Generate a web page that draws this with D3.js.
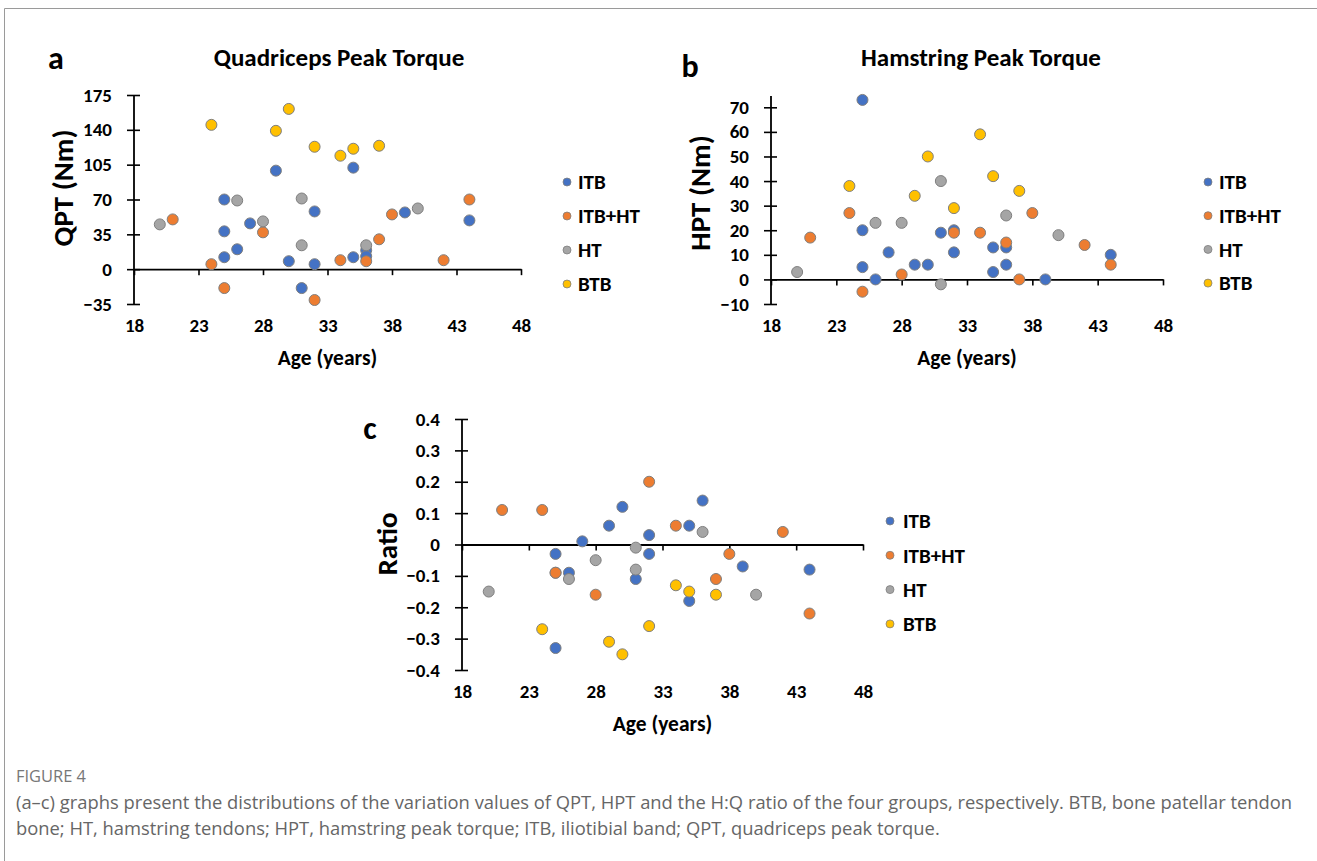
<!DOCTYPE html>
<html>
<head>
<meta charset="utf-8">
<script src="https://cdn.jsdelivr.net/npm/d3@7"></script>
<style>
  body { margin: 0; background: #fff; }
  svg { display: block; }
  .chart text { font-family: Carlito, Lato, "Liberation Sans", sans-serif; font-weight: bold; fill: #000; }
  .caption text { font-family: "Liberation Sans Narrow", "Open Sans", "Noto Sans", sans-serif; fill: #666; }
</style>
</head>
<body>
<svg id="fig" width="1317" height="861"></svg>
<script>
// groups, in the order Excel drew them (later ones sit on top)
const groups = ['ITB', 'ITB+HT', 'HT', 'BTB']
const groupColors = ['#4472c4', '#ed7d31', '#a5a5a5', '#ffc000']

const ageTicks = [18, 23, 28, 33, 38, 43, 48]

// (a) quadriceps peak torque variation, [age, Nm]
const qptITB = [[25, 70], [25, 38], [25, 12], [26, 20], [27, 46], [29, 99], [30, 8], [31, -19],
  [32, 58], [32, 5], [35, 102], [35, 12], [36, 19], [36, 13], [39, 57], [44, 49]]
const qptITBHT = [[21, 50], [24, 5], [25, -19], [28, 37], [32, -31], [34, 9], [36, 8],
  [37, 30], [38, 55], [42, 9], [44, 70]]
const qptHT = [[20, 45], [26, 69], [28, 48], [31, 71], [31, 24], [36, 24], [40, 61]]
const qptBTB = [[24, 145], [29, 139], [30, 161], [32, 123], [34, 114], [35, 121], [37, 124]]
const qptTicks = [-35, 0, 35, 70, 105, 140, 175]

// (b) hamstring peak torque variation, [age, Nm]
const hptITB = [[25, 73], [25, 20], [25, 5], [26, 0], [27, 11], [29, 6], [30, 6], [31, 19],
  [32, 20], [32, 11], [35, 13], [35, 3], [36, 13], [36, 6], [39, 0], [44, 10]]
const hptITBHT = [[21, 17], [24, 27], [25, -5], [28, 2], [32, 19], [34, 19], [36, 15],
  [37, 0], [38, 27], [42, 14], [44, 6]]
const hptHT = [[20, 3], [26, 23], [28, 23], [31, 40], [31, -2], [36, 26], [40, 18]]
const hptBTB = [[24, 38], [29, 34], [30, 50], [32, 29], [34, 59], [35, 42], [37, 36]]
const hptTicks = [-10, 0, 10, 20, 30, 40, 50, 60, 70]

// (c) H:Q ratio variation, [age, ratio]
const ratioITB = [[25, -0.03], [25, -0.09], [25, -0.33], [26, -0.09], [27, 0.01], [29, 0.06],
  [30, 0.12], [31, -0.11], [32, 0.03], [32, -0.03], [35, 0.06], [35, -0.18], [36, 0.14],
  [39, -0.07], [44, -0.08]]
const ratioITBHT = [[21, 0.11], [24, 0.11], [25, -0.09], [28, -0.16], [32, 0.2], [34, 0.06],
  [37, -0.11], [38, -0.03], [42, 0.04], [44, -0.22]]
const ratioHT = [[20, -0.15], [26, -0.11], [28, -0.05], [31, -0.01], [31, -0.08], [36, 0.04], [40, -0.16]]
const ratioBTB = [[24, -0.27], [29, -0.31], [30, -0.35], [32, -0.26], [34, -0.13], [35, -0.15], [37, -0.16]]
const ratioTicks = [-0.4, -0.3, -0.2, -0.1, 0, 0.1, 0.2, 0.3, 0.4]

const captionHead = 'FIGURE 4'
const captionLines = [
  '(a\u2013c) graphs present the distributions of the variation values of QPT, HPT and the H:Q ratio of the four groups, respectively. BTB, bone patellar tendon',
  'bone; HT, hamstring tendons; HPT, hamstring peak torque; ITB, iliotibial band; QPT, quadriceps peak torque.'
]

const panels = [
  {
    letter: 'a', title: 'Quadriceps Peak Torque', ylabel: 'QPT (Nm)',
    series: [qptITB, qptITBHT, qptHT, qptBTB], yticks: qptTicks, yfmt: d3.format('d'),
    x0: 134, x1: 521, y0: 304, y1: 95, ytop: 95,
    letterPos: [56, 69], titlePos: [339, 66], ylabelPos: [63, 188],
    legend: [567, 182, 34, 11]
  },
  {
    letter: 'b', title: 'Hamstring Peak Torque', ylabel: 'HPT (Nm)',
    series: [hptITB, hptITBHT, hptHT, hptBTB], yticks: hptTicks, yfmt: d3.format('d'),
    x0: 771, x1: 1163, y0: 304, y1: 107.3, ytop: 96,
    letterPos: [690, 77], titlePos: [981, 66], ylabelPos: [700, 193],
    legend: [1208, 182, 33.7, 11]
  },
  {
    letter: 'c', title: null, ylabel: 'Ratio',
    series: [ratioITB, ratioITBHT, ratioHT, ratioBTB], yticks: ratioTicks,
    yfmt: d => d === 0 ? '0' : d3.format('.1f')(d),
    x0: 462, x1: 863, y0: 670, y1: 419, ytop: 419,
    letterPos: [370, 439], titlePos: null, ylabelPos: [387, 544],
    legend: [890, 521, 34.3, 13]
  }
]

const svg = d3.select('#fig')

// page frame
svg.append('path')
  .attr('d', 'M4.5,861 V8.5 H1317')
  .attr('fill', 'none')
  .attr('stroke', '#9a9a9a')
  .attr('stroke-width', 1)

const chart = svg.append('g').attr('class', 'chart')

panels.forEach(p => {
  const ydom = d3.extent(p.yticks)
  const x = d3.scaleLinear().domain([18, 48]).range([p.x0, p.x1])
  const y = d3.scaleLinear().domain(ydom).range([p.y0, p.y1])
  const g = chart.append('g')

  g.append('text')
    .attr('x', p.letterPos[0]).attr('y', p.letterPos[1])
    .attr('text-anchor', 'middle')
    .style('font-size', '32px')
    .text(p.letter)

  if (p.title) {
    g.append('text')
      .attr('x', p.titlePos[0]).attr('y', p.titlePos[1])
      .attr('text-anchor', 'middle')
      .style('font-size', '25px')
      .text(p.title)
  }

  g.append('text')
    .attr('transform', 'translate(' + p.ylabelPos[0] + ',' + p.ylabelPos[1] + ') rotate(-90)')
    .attr('text-anchor', 'middle')
    .attr('dy', '0.35em')
    .style('font-size', '29px')
    .text(p.ylabel)

  // y axis with crossing ticks
  const yAxis = g.append('g')
    .attr('transform', 'translate(' + p.x0 + ',0)')
    .call(d3.axisLeft(y).tickValues(p.yticks).tickFormat(p.yfmt).tickSize(7).tickSizeOuter(0).tickPadding(15))
  yAxis.select('.domain').remove()
  yAxis.selectAll('.tick line').attr('x1', 6).attr('stroke-width', 1.6)
  yAxis.selectAll('text').style('font-size', '19px')
  g.append('line')
    .attr('x1', p.x0).attr('x2', p.x0)
    .attr('y1', p.y0).attr('y2', p.ytop)
    .attr('stroke', '#000').attr('stroke-width', 1.8)

  // x axis sits on zero, labels at the bottom
  const xAxis = g.append('g')
    .attr('transform', 'translate(0,' + y(0) + ')')
    .call(d3.axisBottom(x).tickValues(ageTicks).tickFormat('').tickSize(6).tickSizeOuter(0))
  xAxis.select('.domain').attr('stroke-width', 1.8)
  xAxis.selectAll('.tick line').attr('stroke-width', 1.6)

  const xLabels = g.append('g')
    .attr('transform', 'translate(0,' + p.y0 + ')')
    .call(d3.axisBottom(x).tickValues(ageTicks).tickFormat(d3.format('d')).tickSize(0).tickPadding(15))
  xLabels.select('.domain').remove()
  xLabels.selectAll('text').style('font-size', '19px')

  g.append('text')
    .attr('x', (p.x0 + p.x1) / 2).attr('y', p.y0 + 61)
    .attr('text-anchor', 'middle')
    .style('font-size', '21.5px')
    .text('Age (years)')

  // points
  p.series.forEach((pts, i) => {
    g.append('g').selectAll('circle')
      .data(pts)
      .join('circle')
      .attr('cx', d => x(d[0]))
      .attr('cy', d => y(d[1]))
      .attr('r', 5.5)
      .attr('fill', groupColors[i])
      .attr('stroke', '#7f7f7f')
      .attr('stroke-width', 1)
  })

  // legend
  const leg = g.append('g')
    .selectAll('g')
    .data(groups)
    .join('g')
    .attr('transform', (d, i) => 'translate(' + p.legend[0] + ',' + (p.legend[1] + i * p.legend[2]) + ')')
  leg.append('circle')
    .attr('r', 4)
    .attr('fill', (d, i) => groupColors[i])
    .attr('stroke', '#7f7f7f')
    .attr('stroke-width', 0.8)
  leg.append('text')
    .attr('x', p.legend[3]).attr('dy', '0.35em')
    .style('font-size', '21px')
    .text(d => d)
})

// caption: size the text so the first line spans the same width as the original
const cap = svg.append('g').attr('class', 'caption')
const head = cap.append('text')
  .attr('x', 16).attr('y', 782)
  .style('font-size', '14px')
  .style('fill', '#777')
  .text(captionHead)
const lines = cap.selectAll('text.line')
  .data(captionLines)
  .join('text')
  .attr('class', 'line')
  .attr('x', 16)
  .attr('y', (d, i) => 809 + i * 26)
  .style('font-size', '15px')
  .text(d => d)
const w0 = lines.node().getComputedTextLength()
lines.style('font-size', (15 * 1277 / w0).toFixed(2) + 'px')
const hw = head.node().getComputedTextLength()
head.style('font-size', (14 * 70 / hw).toFixed(2) + 'px')
</script>
</body>
</html>
